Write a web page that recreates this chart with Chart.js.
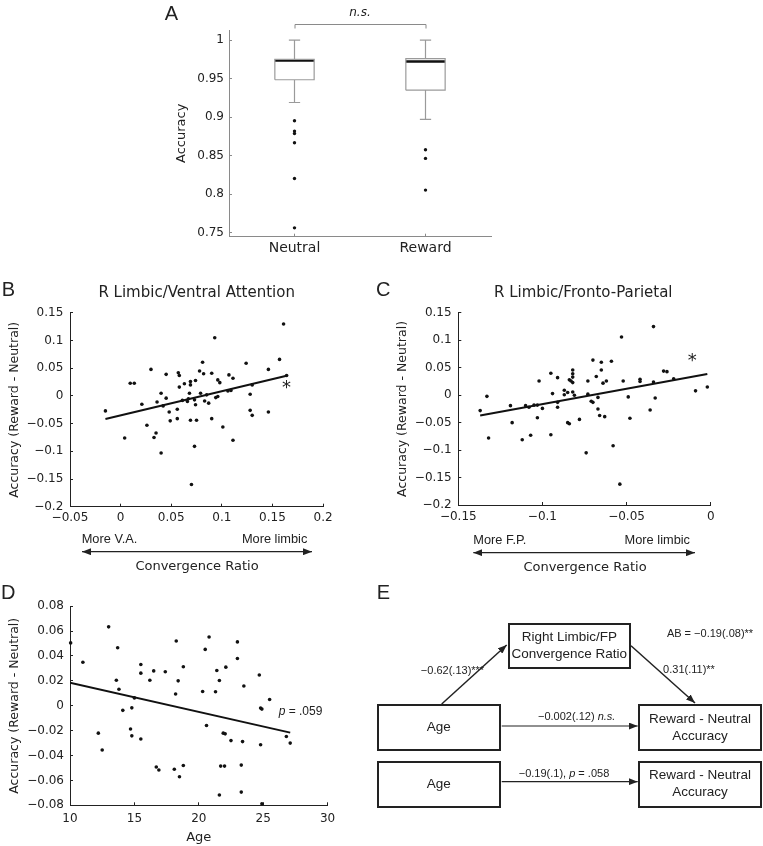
<!DOCTYPE html>
<html><head><meta charset="utf-8">
<script src="https://cdn.jsdelivr.net/npm/chart.js@4.4.0/dist/chart.umd.min.js"></script>
<style>
html,body{margin:0;padding:0;background:#fff;}
body{width:763px;height:846px;position:relative;overflow:hidden;font-family:"DejaVu Sans",sans-serif;color:#222;}
canvas{position:absolute;}
.t{position:absolute;white-space:nowrap;transform:translate(-50%,-50%);line-height:1;}
.l{transform:translate(0,-50%);}
.r{transform:translate(-100%,-50%);}
.ar{font-family:"Liberation Sans",Arial,sans-serif;}
.let{font-family:"Liberation Sans",Arial,sans-serif;font-size:20px;}
.box{position:absolute;border:2px solid #222;box-sizing:border-box;display:flex;align-items:center;justify-content:center;text-align:center;font-family:"Liberation Sans",Arial,sans-serif;font-size:13.5px;line-height:1.25;color:#222;}
.sm{font-family:"Liberation Sans",Arial,sans-serif;font-size:11px;}
</style></head><body>
<canvas id="cA"></canvas>
<canvas id="cB"></canvas>
<canvas id="cC"></canvas>
<canvas id="cD"></canvas>

<div class="t let" style="left:171.5px;top:12.5px">A</div>
<div class="t let" style="left:8.3px;top:289px">B</div>
<div class="t let" style="left:383.3px;top:289px">C</div>
<div class="t let" style="left:8.3px;top:591.7px">D</div>
<div class="t let" style="left:383.3px;top:591.7px">E</div>

<div class="t" style="left:196.7px;top:292.3px;font-size:15px">R Limbic/Ventral Attention</div>
<div class="t" style="left:583.3px;top:292.3px;font-size:15px">R Limbic/Fronto-Parietal</div>

<div class="t l ar" style="left:81.7px;top:539px;font-size:12.8px">More V.A.</div>
<div class="t r ar" style="left:307.3px;top:539px;font-size:12.8px">More limbic</div>
<div class="t" style="left:197px;top:565px;font-size:13px">Convergence Ratio</div>
<div class="t l ar" style="left:473.3px;top:540px;font-size:12.8px">More F.P.</div>
<div class="t r ar" style="left:690px;top:540px;font-size:12.8px">More limbic</div>
<div class="t" style="left:585px;top:565.7px;font-size:13px">Convergence Ratio</div>

<svg width="763" height="846" style="position:absolute;left:0;top:0;pointer-events:none">
<defs>
<marker id="ah" markerWidth="9" markerHeight="7" refX="9" refY="3.5" orient="auto-start-reverse" markerUnits="userSpaceOnUse"><path d="M0,0 L9,3.5 L0,7 z" fill="#222"/></marker>
</defs>
<line x1="82" y1="551.7" x2="312" y2="551.7" stroke="#222" stroke-width="1.3" marker-start="url(#ah)" marker-end="url(#ah)"/>
<line x1="473.3" y1="552.7" x2="695" y2="552.7" stroke="#222" stroke-width="1.3" marker-start="url(#ah)" marker-end="url(#ah)"/>
<line x1="441.7" y1="704" x2="506.7" y2="645" stroke="#222" stroke-width="1.5" marker-end="url(#ah)"/>
<line x1="631" y1="645.7" x2="695" y2="703" stroke="#222" stroke-width="1.5" marker-end="url(#ah)"/>
<line x1="501.7" y1="726" x2="637.7" y2="726" stroke="#222" stroke-width="1.2" marker-end="url(#ah)"/>
<line x1="501.7" y1="781.7" x2="637.7" y2="781.7" stroke="#222" stroke-width="1.2" marker-end="url(#ah)"/>
</svg>

<div class="box" style="left:507.7px;top:622.7px;width:123.3px;height:46.3px">Right Limbic/FP<br>Convergence Ratio</div>
<div class="box" style="left:376.7px;top:704.3px;width:124px;height:46.7px">Age</div>
<div class="box" style="left:638.3px;top:704.3px;width:123.4px;height:46.7px">Reward - Neutral<br>Accuracy</div>
<div class="box" style="left:376.7px;top:761px;width:124px;height:46.7px">Age</div>
<div class="box" style="left:638.3px;top:761px;width:123.4px;height:46.7px">Reward - Neutral<br>Accuracy</div>
<div class="t sm" style="left:710px;top:633px">AB = −0.19(.08)**</div>
<div class="t sm" style="left:452.5px;top:670px">−0.62(.13)***</div>
<div class="t sm" style="left:689px;top:669px">0.31(.11)**</div>
<div class="t sm" style="left:576.7px;top:715.7px">−0.002(.12) <i>n.s.</i></div>
<div class="t sm" style="left:564px;top:772.7px">−0.19(.1), <i>p</i> = .058</div>

<script>
// ---------- Panel A data ----------
const categoriesA = ['Neutral', 'Reward'];
const q1A = [0.9485, 0.935];
const medianA = [0.9735, 0.9723];
const q3A = [0.975, 0.9758];
const whiskerLowA = [0.919, 0.897];
const whiskerHighA = [1.0, 1.0];
const outliersNeutral = [0.8953, 0.8819, 0.8789, 0.8668, 0.8205, 0.7565];
const outliersReward = [0.8577, 0.8465, 0.8054];
const yTicksA = [0.75, 0.8, 0.85, 0.9, 0.95, 1];

// ---------- Panel B data ----------
const bX = [-0.015,0.004,0.0095,0.0135,0.021,0.026,0.030,0.033,0.035,0.036,0.040,0.040,0.042,0.045,0.045,0.048,0.049,0.056,0.056,0.057,0.058,0.058,0.061,0.063,0.066,0.067,0.068,0.069,0.069,0.069,0.070,0.073,0.074,0.073,0.074,0.075,0.078,0.079,0.081,0.082,0.083,0.085,0.087,0.090,0.090,0.093,0.094,0.096,0.096,0.098,0.101,0.106,0.107,0.109,0.111,0.111,0.124,0.128,0.128,0.130,0.130,0.146,0.146,0.157,0.161,0.164];
const bY = [-0.027,-0.076,0.023,0.023,-0.015,-0.053,0.048,-0.075,-0.067,-0.011,-0.103,0.005,-0.018,0.039,-0.004,-0.029,-0.045,-0.041,-0.024,0.042,0.037,0.016,-0.008,0.022,-0.010,-0.005,0.005,0.026,0.020,-0.044,-0.160,-0.007,0.028,-0.091,-0.016,-0.044,0.045,0.005,0.061,0.040,-0.009,0.002,-0.013,0.041,-0.041,0.105,-0.003,-0.001,0.029,0.024,-0.056,0.009,0.038,0.010,0.032,-0.080,0.059,0.003,-0.026,-0.035,0.020,0.048,-0.029,0.066,0.130,0.037];
const bFitX = [-0.015, 0.164];
const bFitY = [-0.0415, 0.0365];
const bXTicks = [-0.05, 0, 0.05, 0.1, 0.15, 0.2];
const bcYTicks = [-0.2, -0.15, -0.1, -0.05, 0, 0.05, 0.1, 0.15];

// ---------- Panel C data ----------
const cX = [-0.137,-0.133,-0.132,-0.119,-0.118,-0.112,-0.110,-0.108,-0.107,-0.105,-0.103,-0.103,-0.102,-0.100,-0.095,-0.095,-0.094,-0.091,-0.091,-0.091,-0.087,-0.087,-0.085,-0.085,-0.084,-0.084,-0.083,-0.082,-0.082,-0.082,-0.082,-0.082,-0.081,-0.078,-0.074,-0.073,-0.073,-0.071,-0.070,-0.070,-0.068,-0.067,-0.067,-0.066,-0.065,-0.065,-0.064,-0.063,-0.062,-0.059,-0.058,-0.054,-0.053,-0.052,-0.049,-0.048,-0.042,-0.042,-0.036,-0.034,-0.034,-0.033,-0.028,-0.026,-0.022,-0.009,-0.002];
const cY = [-0.028,-0.002,-0.078,-0.019,-0.050,-0.081,-0.019,-0.022,-0.073,-0.018,-0.018,-0.041,0.026,-0.024,-0.072,0.040,0.003,-0.022,-0.013,0.032,0.009,0.001,0.005,-0.050,-0.052,0.028,0.026,0.046,0.039,0.033,0.023,0.006,0.000,-0.044,-0.105,0.002,0.026,-0.011,-0.013,0.064,0.034,-0.004,-0.025,-0.037,0.060,0.046,0.022,-0.039,0.026,0.062,-0.092,-0.162,0.106,0.026,-0.003,-0.042,0.029,0.025,-0.027,0.024,0.125,-0.005,0.044,0.043,0.030,0.008,0.015];
const cFitX = [-0.137, -0.002];
const cFitY = [-0.0369, 0.0387];
const cXTicks = [-0.15, -0.1, -0.05, 0];

// ---------- Panel D data ----------
const dAge = [10.05,11.0,12.2,12.5,13.0,13.6,13.7,13.8,14.1,14.8,14.7,14.8,15.0,15.5,15.5,15.5,16.2,16.5,16.7,16.9,17.4,18.1,18.2,18.25,18.4,18.5,18.8,18.8,20.3,20.5,20.6,20.8,21.3,21.4,21.6,21.6,21.7,21.9,22.0,22.05,22.1,22.5,23.0,23.0,23.3,23.3,23.4,23.5,24.7,24.8,24.8,24.9,24.9,25.5,26.8,27.1];
const dAcc = [0.0505,0.035,-0.022,-0.0355,0.0634,0.0205,0.0466,0.0133,-0.0037,-0.0017,-0.0187,-0.0242,0.0063,0.0332,0.0262,-0.0267,0.0205,0.028,-0.0492,-0.0516,0.0273,-0.051,0.0094,0.052,0.020,-0.057,-0.048,0.0314,0.0115,0.0453,-0.0159,0.0552,0.0112,0.0283,-0.0717,0.0203,-0.0485,-0.022,-0.0485,-0.0226,0.031,-0.028,0.0513,0.038,-0.0694,-0.0477,-0.0288,0.0159,0.0247,-0.0314,-0.0019,-0.0027,-0.0787,0.005,-0.0247,-0.030];
const dFitX = [10, 27.1];
const dFitY = [0.0185, -0.0216];
const dXTicks = [10, 15, 20, 25, 30];
const dYTicks = [-0.08, -0.06, -0.04, -0.02, 0, 0.02, 0.04, 0.06, 0.08];

// ---------- helpers ----------
Chart.defaults.font.family = '"DejaVu Sans", sans-serif';
Chart.defaults.color = '#222';
Chart.defaults.animation = false;

function fmt(v) { return String(+Number(v).toFixed(3)).replace('-', '\u2212'); }

function axis(o) {
  return {
    type: 'linear', position: o.pos, min: o.min, max: o.max,
    afterBuildTicks: s => { s.ticks = o.ticks.map(v => ({ value: v })); },
    afterFit: s => { if (o.pos === 'left') s.width = o.size; else s.height = o.size; },
    ticks: { padding: o.pad, color: '#222', font: { size: o.fs || 12 }, callback: o.cb || fmt, autoSkip: false, maxRotation: 0, minRotation: 0 },
    grid: { display: true, drawOnChartArea: false, drawTicks: true, tickLength: -3, color: o.color, lineWidth: 1 },
    border: { display: true, color: o.color, width: 1 },
    title: o.title ? { display: true, text: o.title, color: '#222', font: { size: o.tfs }, padding: o.tpad } : { display: false }
  };
}

function mk(id, left, top, w, h, padTop, padRight, xAxis, yAxis, datasets, plugins) {
  const c = document.getElementById(id);
  c.width = w; c.height = h;
  c.style.left = left + 'px'; c.style.top = top + 'px';
  c.style.width = w + 'px'; c.style.height = h + 'px';
  return new Chart(c, {
    type: 'scatter',
    data: { datasets },
    options: {
      responsive: false, devicePixelRatio: 1, animation: false,
      layout: { padding: { top: padTop, right: padRight, left: 0, bottom: 0 } },
      plugins: { legend: { display: false }, tooltip: { enabled: false }, title: { display: false } },
      scales: { x: xAxis, y: yAxis }
    },
    plugins: plugins || []
  });
}

function pts(xs, ys) {
  return { data: xs.map((x, i) => ({ x, y: ys[i] })), showLine: false, pointRadius: 1.8, pointBackgroundColor: '#111', pointBorderWidth: 0, clip: false };
}
function fit(xs, ys) {
  return { data: xs.map((x, i) => ({ x, y: ys[i] })), showLine: true, borderColor: '#111', borderWidth: 2, pointRadius: 0 };
}
// draws a run of text pieces (each with its own font) starting at a data position
function textPlugin(items) {
  return {
    id: 'txt' + Math.random().toString(36).slice(2),
    afterDraw(chart) {
      const ctx = chart.ctx, xs = chart.scales.x, ys = chart.scales.y;
      ctx.save();
      items.forEach(it => {
        let px = xs.getPixelForValue(it.x);
        const py = ys.getPixelForValue(it.y) + (it.dy || 0);
        ctx.fillStyle = '#222';
        ctx.textBaseline = it.baseline || 'middle';
        if (it.parts) {
          ctx.textAlign = 'left';
          it.parts.forEach(p => { ctx.font = p.font; ctx.fillText(p.text, px, py); px += ctx.measureText(p.text).width; });
        } else {
          ctx.font = it.font; ctx.textAlign = it.align || 'center';
          ctx.fillText(it.text, px, py);
        }
      });
      ctx.restore();
    }
  };
}

// ---------- Panel A ----------
const BOX_HW = 0.15, CAP_HW = 0.043;
const grayLines = [], medLines = [];
categoriesA.forEach((c, i) => {
  const x = i + 1;
  grayLines.push({ x: x - BOX_HW, y: q1A[i] }, { x: x + BOX_HW, y: q1A[i] }, { x: x + BOX_HW, y: q3A[i] }, { x: x - BOX_HW, y: q3A[i] }, { x: x - BOX_HW, y: q1A[i] }, { x: NaN, y: NaN });
  grayLines.push({ x, y: q1A[i] }, { x, y: whiskerLowA[i] }, { x: NaN, y: NaN });
  grayLines.push({ x: x - CAP_HW, y: whiskerLowA[i] }, { x: x + CAP_HW, y: whiskerLowA[i] }, { x: NaN, y: NaN });
  grayLines.push({ x, y: q3A[i] }, { x, y: whiskerHighA[i] }, { x: NaN, y: NaN });
  grayLines.push({ x: x - CAP_HW, y: whiskerHighA[i] }, { x: x + CAP_HW, y: whiskerHighA[i] }, { x: NaN, y: NaN });
  medLines.push({ x: x - BOX_HW, y: medianA[i] }, { x: x + BOX_HW, y: medianA[i] }, { x: NaN, y: NaN });
});
const bracketPlugin = {
  id: 'bracket',
  afterDraw(chart) {
    const ctx = chart.ctx, xs = chart.scales.x, top = chart.chartArea.top;
    const x1 = xs.getPixelForValue(1), x2 = xs.getPixelForValue(2);
    ctx.save();
    ctx.strokeStyle = '#8a8a8a'; ctx.lineWidth = 1;
    ctx.beginPath();
    ctx.moveTo(x1 + 0.5, top - 1.5); ctx.lineTo(x1 + 0.5, top - 5.5); ctx.lineTo(x2 + 0.5, top - 5.5); ctx.lineTo(x2 + 0.5, top - 1.5);
    ctx.stroke();
    ctx.fillStyle = '#222'; ctx.font = 'italic 12px "DejaVu Sans"';
    ctx.textAlign = 'center'; ctx.textBaseline = 'middle';
    ctx.fillText('n.s.', (x1 + x2) / 2, top - 17);
    ctx.restore();
  }
};
mk('cA', 150, 0, 360, 270, 30, 19,
  axis({ pos: 'bottom', min: 0.5, max: 2.5, ticks: [1, 2], size: 33.3, pad: 5.9, fs: 14, color: '#8a8a8a', cb: v => categoriesA[Math.round(v) - 1] }),
  axis({ pos: 'left', min: 0.745, max: 1.013, ticks: yTicksA, size: 79, pad: 8, color: '#8a8a8a', title: 'Accuracy', tfs: 13, tpad: { top: 23.9, bottom: 0 } }),
  [
    { data: grayLines, showLine: true, spanGaps: false, borderColor: '#9a9a9a', borderWidth: 1.2, pointRadius: 0 },
    { data: medLines, showLine: true, spanGaps: false, borderColor: '#111', borderWidth: 2.5, pointRadius: 0 },
    { data: outliersNeutral.map(v => ({ x: 1, y: v })), pointRadius: 1.7, pointBackgroundColor: '#111', pointBorderWidth: 0, clip: false },
    { data: outliersReward.map(v => ({ x: 2, y: v })), pointRadius: 1.7, pointBackgroundColor: '#111', pointBorderWidth: 0, clip: false }
  ],
  [bracketPlugin]);

// ---------- Panel B ----------
mk('cB', 0, 296, 340, 240, 10, 16,
  axis({ pos: 'bottom', min: -0.05, max: 0.2, ticks: bXTicks, size: 29.3, pad: 7.4, color: '#222' }),
  axis({ pos: 'left', min: -0.2, max: 0.15, ticks: bcYTicks, size: 70, pad: 9.7, color: '#222', title: 'Accuracy (Reward - Neutral)', tfs: 12.5, tpad: { top: 7.5, bottom: 0 } }),
  [fit(bFitX, bFitY), pts(bX, bY)],
  [textPlugin([{ text: '*', x: 0.1639, y: 0.0122, font: '18px "DejaVu Sans"', baseline: 'alphabetic', dy: 4 }])]);

// ---------- Panel C ----------
mk('cC', 340, 296, 400, 240, 10, 29.3,
  axis({ pos: 'bottom', min: -0.15, max: 0, ticks: cXTicks, size: 31, pad: 7.4, color: '#222' }),
  axis({ pos: 'left', min: -0.2, max: 0.15, ticks: bcYTicks, size: 118.3, pad: 9.7, color: '#222', title: 'Accuracy (Reward - Neutral)', tfs: 12.5, tpad: { top: 55.5, bottom: 0 } }),
  [fit(cFitX, cFitY), pts(cX, cY)],
  [textPlugin([{ text: '*', x: -0.0109, y: 0.0611, font: '18px "DejaVu Sans"', baseline: 'alphabetic', dy: 4 }])]);

// ---------- Panel D ----------
mk('cD', 0, 590, 345, 256, 9, 11.7,
  axis({ pos: 'bottom', min: 10, max: 30, ticks: dXTicks, size: 40.7, pad: 9.8, color: '#222', title: 'Age', tfs: 13, tpad: { top: 0, bottom: 0.2 } }),
  axis({ pos: 'left', min: -0.08, max: 0.08, ticks: dYTicks, size: 70, pad: 9, color: '#222', title: 'Accuracy (Reward - Neutral)', tfs: 12.5, tpad: { top: 7.5, bottom: 0 } }),
  [fit(dFitX, dFitY), pts(dAge, dAcc)],
  [textPlugin([{ x: 26.2, y: -0.0045, parts: [{ text: 'p', font: 'italic 12px "Liberation Sans"' }, { text: ' = .059', font: '12px "Liberation Sans"' }] }])]);
</script>
</body></html>
